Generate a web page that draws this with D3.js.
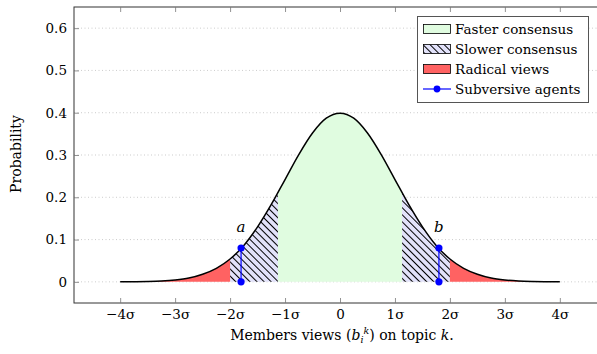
<!DOCTYPE html>
<html>
<head>
<meta charset="utf-8">
<script src="https://cdn.jsdelivr.net/npm/d3@7"></script>
<style>
  body { margin: 0; background: #fff; }
  svg text { font-family: "DejaVu Serif", "Liberation Serif", serif; }
</style>
</head>
<body>
<script>
// chart size
var width = 597,
	height = 354;

// density (x in sigma units)
var xs = [-4, -3.75, -3.5, -3.25, -3, -2.75, -2.5, -2.25, -2, -1.75, -1.5, -1.25, -1, -0.75, -0.5, -0.25,
	0, 0.25, 0.5, 0.75, 1, 1.25, 1.5, 1.75, 2, 2.25, 2.5, 2.75, 3, 3.25, 3.5, 3.75, 4];
var ys = [0.0001, 0.0004, 0.0009, 0.002, 0.0044, 0.009, 0.018, 0.032, 0.054, 0.086, 0.130, 0.183, 0.242, 0.301, 0.352, 0.387,
	0.399, 0.387, 0.352, 0.301, 0.242, 0.183, 0.130, 0.086, 0.054, 0.032, 0.018, 0.009, 0.0044, 0.002, 0.0009, 0.0004, 0.0001];

// regions along x
var fasterRange = [-1.13, 1.13];
var slowerRanges = [[-2, -1.13], [1.13, 2]];
var radicalRanges = [[-4, -2], [2, 4]];

// subversive agents
var agentX = [-1.8, 1.8];
var agentY = [0.08, 0.08];
var agentLabels = ['a', 'b'];

// ticks
var xTicks = [-4, -3, -2, -1, 0, 1, 2, 3, 4];
var xTickLabels = ['\u22124\u03c3', '\u22123\u03c3', '\u22122\u03c3', '\u22121\u03c3', '0', '1\u03c3', '2\u03c3', '3\u03c3', '4\u03c3'];
var yTicks = [0, 0.1, 0.2, 0.3, 0.4, 0.5, 0.6];

var legendLabels = ['Faster consensus', 'Slower consensus', 'Radical views', 'Subversive agents'];

var curve = xs.map(function(x, i) { return { x: x, y: ys[i] }; });

var margin = { left: 74, top: 7, right: 606, bottom: 303 };
var serif = '"DejaVu Serif", "Liberation Serif", serif';

var x = d3.scaleLinear().domain([-4.84, 4.84]).range([margin.left, margin.right]);
var y = d3.scaleLinear().domain([-0.05, 0.65]).range([margin.bottom, margin.top]);

var svg = d3.select('body').append('svg')
	.attr('width', width)
	.attr('height', height)
	.attr('font-family', serif);

var defs = svg.append('defs');

// hatch: lines going down to the right
var hatch = defs.append('pattern')
	.attr('id', 'hatch')
	.attr('patternUnits', 'userSpaceOnUse')
	.attr('width', 5)
	.attr('height', 5)
	.attr('patternTransform', 'rotate(-45)');
hatch.append('rect').attr('width', 5).attr('height', 5).attr('fill', '#e2e2fa');
hatch.append('line').attr('x1', 2.5).attr('x2', 2.5).attr('y1', 0).attr('y2', 5)
	.attr('stroke', '#000').attr('stroke-width', 1.05);

// clip paths for each region
function addClip(id, ranges) {
	var cp = defs.append('clipPath').attr('id', id);
	ranges.forEach(function(r) {
		cp.append('rect')
			.attr('x', x(r[0]))
			.attr('width', x(r[1]) - x(r[0]))
			.attr('y', 0)
			.attr('height', height);
	});
}
addClip('clip-fast', [fasterRange]);
addClip('clip-slow', slowerRanges);
addClip('clip-rad', radicalRanges);

// grid
svg.append('g').selectAll('line')
	.data(yTicks)
	.enter().append('line')
	.attr('x1', margin.left).attr('x2', margin.right)
	.attr('y1', function(d) { return y(d); })
	.attr('y2', function(d) { return y(d); })
	.attr('stroke', '#aaa')
	.attr('stroke-width', 0.6)
	.attr('stroke-dasharray', '1,2.5');

var area = d3.area()
	.x(function(d) { return x(d.x); })
	.y0(y(0))
	.y1(function(d) { return y(d.y); })
	.curve(d3.curveMonotoneX);

var line = d3.line()
	.x(function(d) { return x(d.x); })
	.y(function(d) { return y(d.y); })
	.curve(d3.curveMonotoneX);

svg.append('path').datum(curve).attr('d', area)
	.attr('fill', '#e0fce0').attr('clip-path', 'url(#clip-fast)');
svg.append('path').datum(curve).attr('d', area)
	.attr('fill', 'url(#hatch)').attr('clip-path', 'url(#clip-slow)');
svg.append('path').datum(curve).attr('d', area)
	.attr('fill', '#ff6262').attr('clip-path', 'url(#clip-rad)');

svg.append('path').datum(curve).attr('d', line)
	.attr('fill', 'none').attr('stroke', '#000').attr('stroke-width', 1.5);

// subversive agents
var agents = svg.append('g');
agentX.forEach(function(ax, i) {
	agents.append('line')
		.attr('x1', x(ax)).attr('x2', x(ax))
		.attr('y1', y(0)).attr('y2', y(agentY[i]))
		.attr('stroke', '#0000ff').attr('stroke-width', 1.2);
	agents.append('circle').attr('cx', x(ax)).attr('cy', y(0)).attr('r', 3.6).attr('fill', '#0000ff');
	agents.append('circle').attr('cx', x(ax)).attr('cy', y(agentY[i])).attr('r', 3.6).attr('fill', '#0000ff');
	agents.append('text')
		.attr('x', x(ax)).attr('y', y(agentY[i]) - 16)
		.attr('text-anchor', 'middle')
		.attr('font-style', 'italic')
		.attr('font-size', 15)
		.text(agentLabels[i]);
});

// frame
svg.append('rect')
	.attr('x', margin.left).attr('y', margin.top)
	.attr('width', margin.right - margin.left)
	.attr('height', margin.bottom - margin.top)
	.attr('fill', 'none').attr('stroke', '#333').attr('stroke-width', 1);

// axes with inward ticks
var xAxisB = d3.axisBottom(x).tickValues(xTicks).tickSize(-5).tickPadding(6)
	.tickFormat(function(d, i) { return xTickLabels[i]; });
var xAxisT = d3.axisTop(x).tickValues(xTicks).tickSize(-5).tickFormat('');
var yAxisL = d3.axisLeft(y).tickValues(yTicks).tickSize(-5).tickPadding(7)
	.tickFormat(function(d) { return d === 0 ? '0' : d3.format('.1f')(d); });

function styleAxis(g) {
	g.attr('font-family', serif).attr('font-size', 13.5);
	g.select('.domain').remove();
	g.selectAll('.tick line').attr('stroke', '#777').attr('stroke-width', 0.8);
	g.selectAll('.tick text').attr('fill', '#000');
}

svg.append('g').attr('transform', 'translate(0,' + margin.bottom + ')').call(xAxisB).call(styleAxis);
svg.append('g').attr('transform', 'translate(0,' + margin.top + ')').call(xAxisT).call(styleAxis);
svg.append('g').attr('transform', 'translate(' + margin.left + ',0)').call(yAxisL).call(styleAxis);

// axis titles
svg.append('text')
	.attr('transform', 'translate(21,154) rotate(-90)')
	.attr('text-anchor', 'middle')
	.attr('font-size', 14)
	.text('Probability');

var xt = svg.append('text')
	.attr('x', 342).attr('y', 340)
	.attr('text-anchor', 'middle')
	.attr('font-size', 14);
xt.append('tspan').text('Members views (');
xt.append('tspan').attr('font-style', 'italic').text('b');
xt.append('tspan').attr('font-style', 'italic').attr('font-size', 9.5).attr('dy', 3).text('i');
xt.append('tspan').attr('font-style', 'italic').attr('font-size', 9.5).attr('dy', -9).text('k');
xt.append('tspan').attr('dy', 6).text(') on topic ');
xt.append('tspan').attr('font-style', 'italic').text('k');
xt.append('tspan').text('.');

// legend
var lg = svg.append('g');
lg.append('rect')
	.attr('x', 417.5).attr('y', 16.5).attr('width', 171).attr('height', 86)
	.attr('fill', '#fff').attr('stroke', '#555').attr('stroke-width', 1);

var swatchFill = ['#e0fce0', 'url(#hatch)', '#ff6262'];
legendLabels.forEach(function(lbl, i) {
	var cy = 29 + i * 20;
	if (i < 3) {
		lg.append('rect')
			.attr('x', 423.5).attr('y', cy - 4.5).attr('width', 27).attr('height', 9)
			.attr('fill', swatchFill[i]).attr('stroke', '#000').attr('stroke-width', 0.8);
	} else {
		lg.append('line').attr('x1', 423).attr('x2', 451).attr('y1', cy).attr('y2', cy)
			.attr('stroke', '#0000ff').attr('stroke-width', 1.2);
		lg.append('circle').attr('cx', 437).attr('cy', cy).attr('r', 3.4).attr('fill', '#0000ff');
	}
	lg.append('text')
		.attr('x', 455).attr('y', cy + 5)
		.attr('font-size', 13.5)
		.text(lbl);
});
</script>
</body>
</html>
